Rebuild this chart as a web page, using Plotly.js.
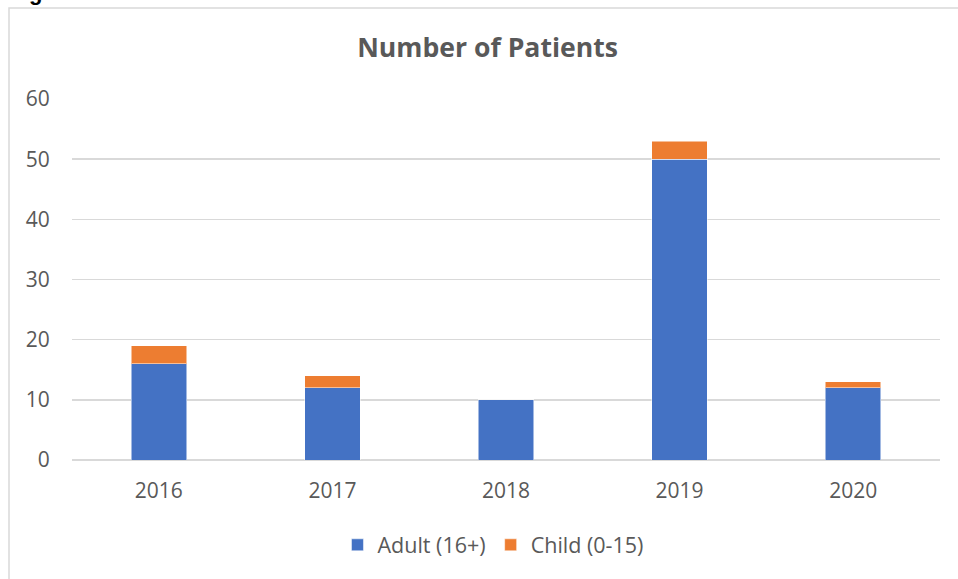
<!DOCTYPE html>
<html>
<head>
<meta charset="utf-8">
<script src="https://cdn.plot.ly/plotly-3.0.1.min.js"></script>
<style>
html,body{margin:0;padding:0;background:#fff;overflow:hidden;}
#chart{width:958px;height:579px;}
</style>
</head>
<body>
<div id="chart"></div>
<script>
const years = ['2016', '2017', '2018', '2019', '2020'];
const adult = [16, 12, 10, 50, 12];
const child = [3, 2, 0, 3, 1];
const seriesNames = ['Adult (16+)', 'Child (0-15)'];
const yTicks = [0, 10, 20, 30, 40, 50, 60];

const fontFam = '"Open Sans", sans-serif';
const grey = '#595959';

const traces = [
  {type: 'bar', name: seriesNames[0], x: years, y: adult,
   marker: {color: '#4472C4', line: {color: 'rgba(255,255,255,0.5)', width: 1}}},
  {type: 'bar', name: seriesNames[1], x: years, y: child,
   marker: {color: '#ED7D31', line: {color: 'rgba(255,255,255,0.5)', width: 1}}}
];

const layout = {
  width: 958, height: 579,
  margin: {l: 72, r: 18, t: 99, b: 119},
  barmode: 'stack',
  bargap: 0.68,
  paper_bgcolor: '#fff', plot_bgcolor: '#fff',
  font: {family: fontFam, color: grey, size: 20},
  title: {text: '<b>Number of Patients</b>', font: {family: fontFam, size: 26.6, color: grey},
          x: 0.509, xref: 'container', xanchor: 'center', y: 1 - 48/579, yref: 'container', yanchor: 'middle'},
  xaxis: {type: 'category', showgrid: false, zeroline: false, showline: false,
          ticks: 'outside', ticklen: 12, tickcolor: 'rgba(0,0,0,0)',
          tickfont: {size: 21, color: grey}},
  yaxis: {range: [0, 60], tickvals: yTicks, showgrid: true, gridcolor: '#d9d9d9', gridwidth: 1.5,
          zeroline: true, zerolinecolor: '#d9d9d9', zerolinewidth: 1.5, showline: false,
          ticks: 'outside', ticklen: 17, tickcolor: 'rgba(0,0,0,0)',
          tickfont: {size: 21, color: grey}, fixedrange: true},
  showlegend: true,
  legend: {orientation: 'h', x: 0.485, xanchor: 'center', y: -0.235, yanchor: 'middle',
           font: {size: 21.5, color: grey}, traceorder: 'normal', itemwidth: 30},
  shapes: [
    {type: 'rect', xref: 'paper', yref: 'paper',
     x0: (9 - 72) / 868, x1: (962 - 72) / 868, y0: (460 - 585) / 361, y1: (460 - 8) / 361,
     line: {color: '#d9d9d9', width: 1.5}, fillcolor: 'rgba(0,0,0,0)', layer: 'below'}
  ],
  annotations: [
    {text: '<b>g</b>', xref: 'paper', yref: 'paper', x: (27 - 72) / 868, xanchor: 'left',
     y: (460 - 7) / 361, yanchor: 'bottom', showarrow: false,
     font: {family: 'Liberation Sans, Arial, sans-serif', size: 22, color: '#000'}}
  ]
};

Plotly.newPlot('chart', traces, layout, {displayModeBar: false, staticPlot: true});
</script>
</body>
</html>
